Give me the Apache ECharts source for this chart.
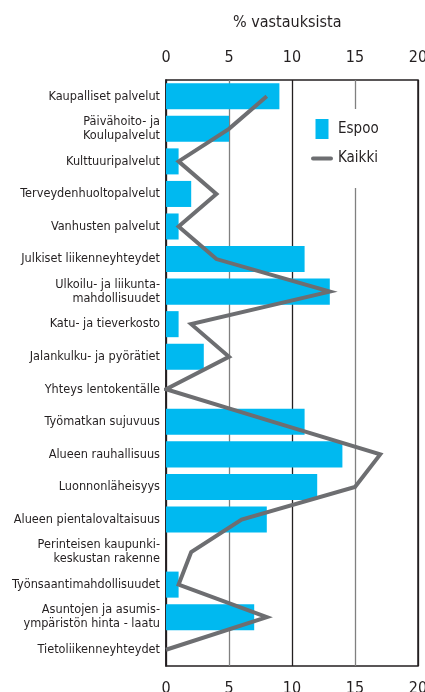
<!DOCTYPE html>
<html><head><meta charset="utf-8">
<script src="https://cdn.jsdelivr.net/npm/echarts@6/dist/echarts.min.js"></script>
<style>html,body{margin:0;padding:0;background:#fff}#c{width:425px;height:692px}</style>
</head><body><div id="c"></div>
<script>
const categories = ['Kaupalliset palvelut','Päivähoito- ja\nKoulupalvelut','Kulttuuripalvelut','Terveydenhuoltopalvelut','Vanhusten palvelut','Julkiset liikenneyhteydet','Ulkoilu- ja liikunta-\nmahdollisuudet','Katu- ja tieverkosto','Jalankulku- ja pyörätiet','Yhteys lentokentälle','Työmatkan sujuvuus','Alueen rauhallisuus','Luonnonläheisyys','Alueen pientalovaltaisuus','Perinteisen kaupunki-\nkeskustan rakenne','Työnsaantimahdollisuudet','Asuntojen ja asumis-\nympäristön hinta - laatu','Tietoliikenneyhteydet'];
const espoo = [9,5,1,2,1,11,13,1,3,0,11,14,12,8,0,1,7,0];
const kaikki = [8,5,1,4,1,4,13,2,5,0,8.5,17,15,6,2,1,8,0];
const xTicks = [0,5,10,15,20];
const titleText = '% vastauksista';

const F = "'Liberation Sans Narrow','Arial Narrow','DejaVu Sans Condensed',sans-serif";
const dark = '#231f20';
const chart = echarts.init(document.getElementById('c'));
const xCommon = {
  type:'value', min:xTicks[0], max:xTicks[xTicks.length-1], interval:5,
  axisLine:{show:false}, axisTick:{show:false}
};
chart.setOption({
  animation:false,
  title:{text:titleText, left:228, top:10, textStyle:{fontFamily:F, fontSize:16, fontWeight:'normal', color:dark}},
  grid:{left:166, right:7, top:80, bottom:26, outerBoundsMode:'none', containLabel:false, show:true, borderColor:dark, borderWidth:1.5, backgroundColor:'transparent'},
  legend:{
    orient:'vertical', left:307, top:109, backgroundColor:'#fff', padding:[10,4,22,4], itemGap:12,
    itemWidth:22, itemHeight:20, symbolKeepAspect:true,
    textStyle:{fontFamily:F, fontSize:15, color:dark},
    data:[{name:'Espoo', icon:'path://M0,0H13V20H0Z'},{name:'Kaikki', icon:'path://M2,0H20A2,2 0 0 1 20,4H2A2,2 0 0 1 2,0Z'}]
  },
  xAxis:[
    Object.assign({}, xCommon, {position:'top', axisLabel:{fontFamily:F, fontSize:16, color:dark, margin:14},
      splitLine:{show:true, lineStyle:{color:[dark,'#808080',dark,'#808080',dark], width:1.3}}}),
    Object.assign({}, xCommon, {position:'bottom', axisLabel:{fontFamily:F, fontSize:16, color:dark, margin:15}, splitLine:{show:false}})
  ],
  yAxis:{
    type:'category', data:categories, inverse:true,
    axisLine:{show:true, lineStyle:{color:dark, width:1.5}}, axisTick:{show:false},
    axisLabel:{fontFamily:F, fontSize:12.6, lineHeight:14, color:dark, margin:6}
  },
  series:[
    {name:'Espoo', type:'bar', data:espoo, xAxisIndex:0, barCategoryGap:'20%', itemStyle:{color:'#00b9f0'}},
    {name:'Kaikki', type:'line', data:kaikki, xAxisIndex:0, showSymbol:false, symbol:'none', z:5,
     itemStyle:{color:'#6d6e71'}, lineStyle:{color:'#6d6e71', width:4, join:'miter'}}
  ]
});
</script></body></html>
